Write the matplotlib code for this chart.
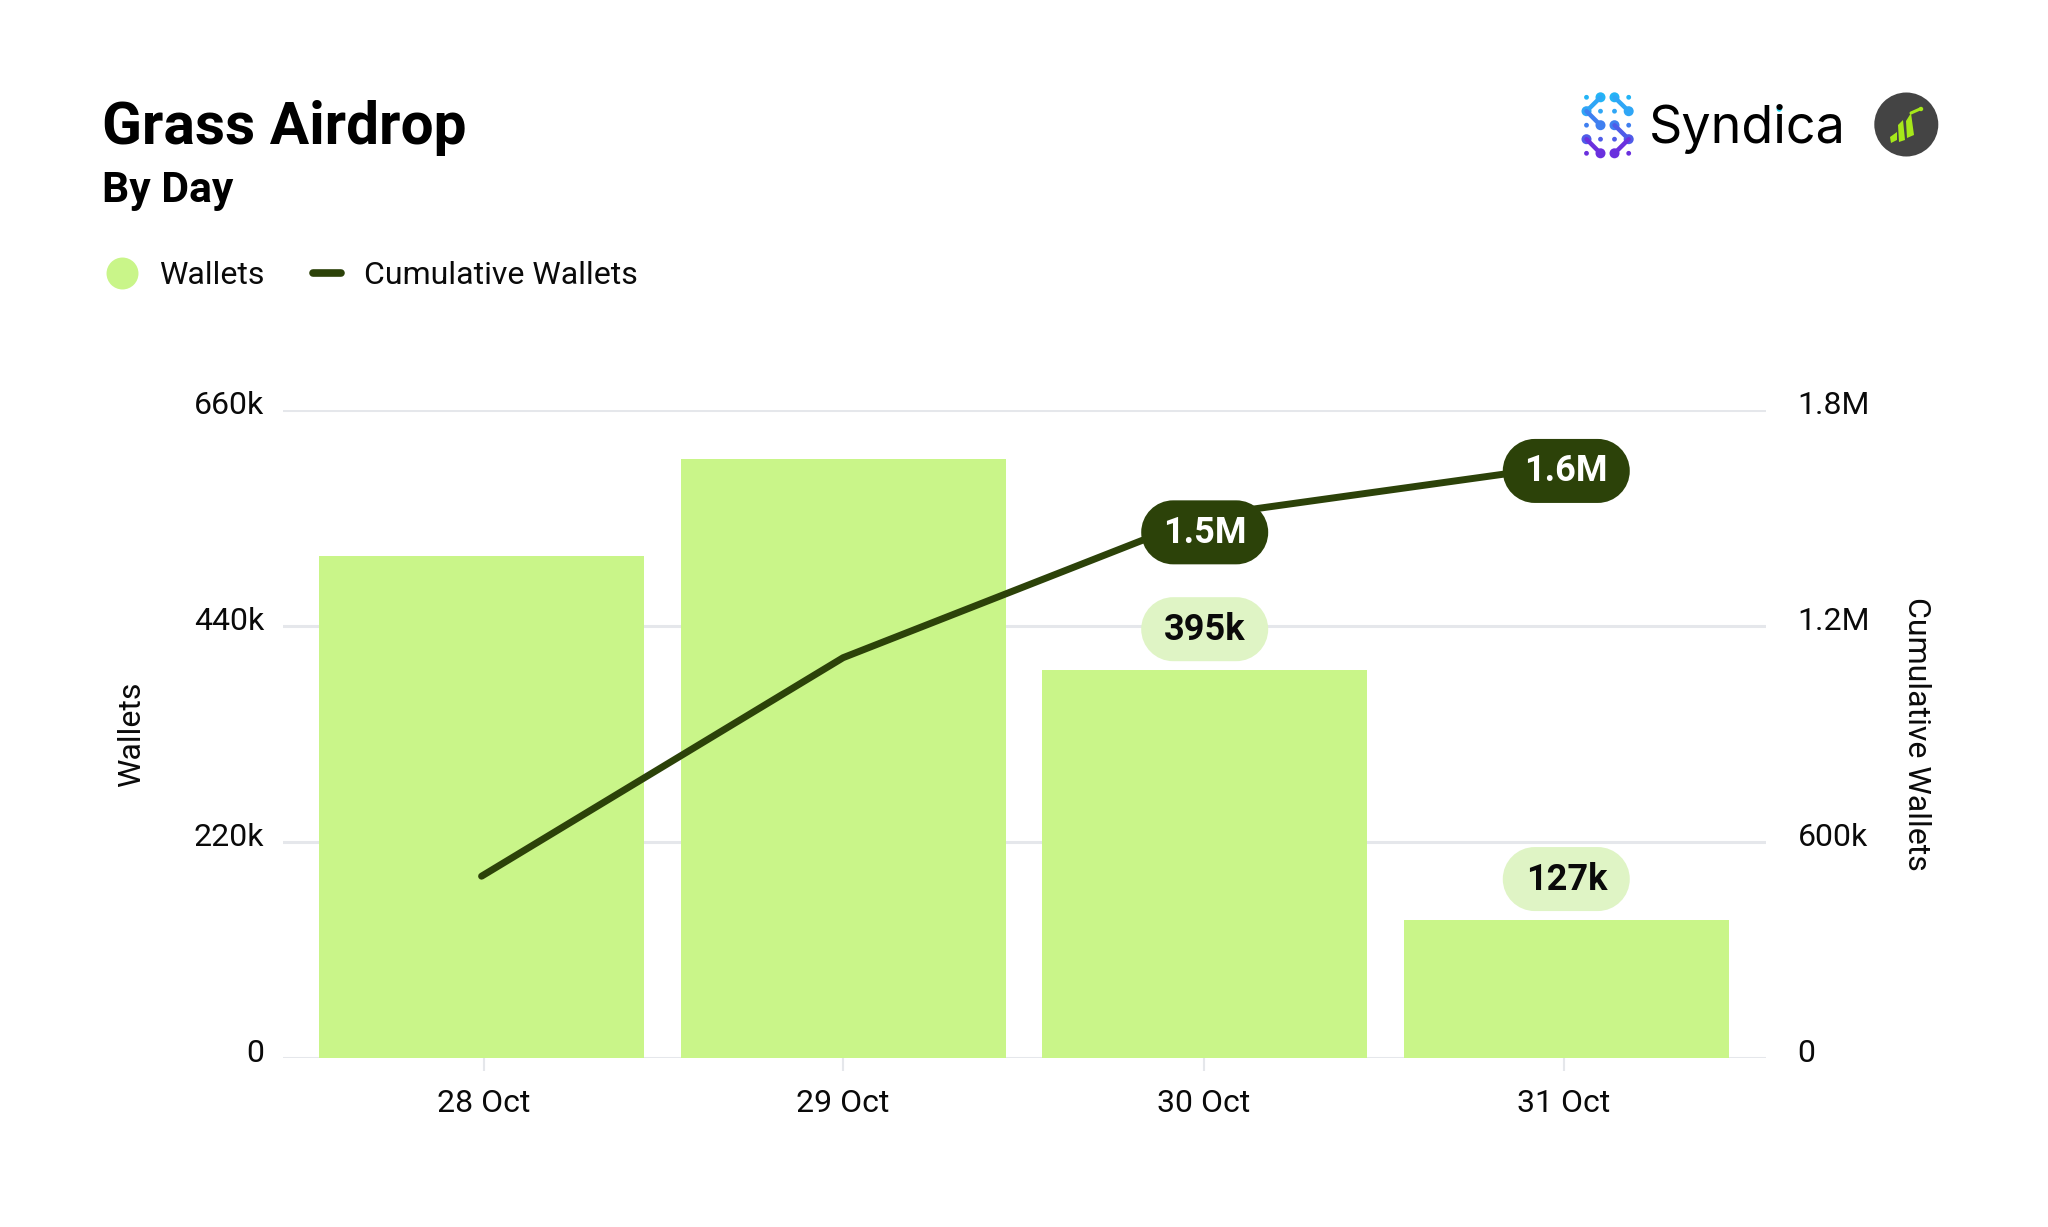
import matplotlib
matplotlib.use("Agg")
import matplotlib.pyplot as plt
from matplotlib.lines import Line2D
from matplotlib.patches import Circle, Polygon
from matplotlib.path import Path
from matplotlib.transforms import ScaledTranslation

# ---- data ----
days = ["28 Oct", "29 Oct", "30 Oct", "31 Oct"]
wallets = [511000, 610500, 395000, 140500]
cumulative = [505000, 1112000, 1506000, 1646000]
wallet_labels = {2: "395k", 3: "127k"}
cumulative_labels = {2: "1.5M", 3: "1.6M"}
left_ticks = [0, 220000, 440000, 660000]
left_tick_labels = ["0", "220k", "440k", "660k"]
right_ticks = [0, 600000, 1200000, 1800000]
right_tick_labels = ["0", "600k", "1.2M", "1.8M"]

# ---- style ----
BAR = "#C9F589"
PILL_LIGHT = "#DFF4C5"
DARK = "#2C4209"
GRID = "#E5E7EB"
INK = "#0A0A0A"
W, H = 2048, 1227
DPI = 100
FONT = "Roboto"
plt.rcParams["font.family"] = [FONT, "DejaVu Sans"]

fig = plt.figure(figsize=(W / DPI, H / DPI), dpi=DPI, facecolor="white")
L, R, T, B = 282.7, 1765.5, 410.0, 1058.0
ax = fig.add_axes([L / W, 1 - B / H, (R - L) / W, (B - T) / H])
ax2 = ax.twinx()
ax2.set_zorder(ax.get_zorder() + 1)
ax2.patch.set_visible(False)

positions = list(range(len(days)))
ax.bar(positions, wallets, width=0.899, color=BAR, zorder=3)
ax2.plot(positions, cumulative, color=DARK, lw=5.0, solid_capstyle="round",
         solid_joinstyle="round", zorder=3)

ax.set_xlim(-0.55, 3.551)
ax.set_ylim(0, 660000)
ax2.set_ylim(0, 1800000)
ax.set_xticks([0.007, 1.0, 1.997, 2.993], days)
ax.set_yticks(left_ticks, left_tick_labels)
ax2.set_yticks(right_ticks, right_tick_labels)
ax.grid(axis="y", color=GRID, lw=2.2, zorder=0)
ax.set_axisbelow(True)
for a in (ax, ax2):
    for s in a.spines.values():
        s.set_visible(False)
ax.tick_params(axis="x", length=9.5, width=1.5, color=GRID, labelsize=23,
               labelcolor=INK, pad=12.8)
ax.tick_params(axis="y", length=0, labelsize=23, labelcolor=INK, pad=13.4)
ax2.tick_params(axis="y", length=0, labelsize=23, labelcolor=INK, pad=23)
# the value labels sit a little above their gridlines
lift = ScaledTranslation(0, 8 / DPI, fig.dpi_scale_trans)
for lab in ax.get_yticklabels() + ax2.get_yticklabels():
    lab.set_transform(lab.get_transform() + lift)

ax.set_ylabel("Wallets", fontsize=23, color=INK)
ax.yaxis.set_label_coords((146 - L) / (R - L), 0.5)
ax2.set_ylabel("Cumulative Wallets", fontsize=23, color=INK, rotation=270, va="center")
ax2.yaxis.set_label_coords((1917 - L) / (R - L), 0.5)


def pill_box(x0, y0, width, height, mutation_size):
    """Fixed-size capsule around a label, in pixels."""
    half_w, half_h = 63.5, 32
    cx, cy = x0 + width / 2, y0 + height / 2 + 0.5
    r = half_h
    k = 0.5523 * r
    xl, xr = cx - half_w, cx + half_w
    yb, yt = cy - half_h, cy + half_h
    verts = [(xl + r, yb), (xr - r, yb),
             (xr - r + k, yb), (xr, cy - k), (xr, cy),
             (xr, cy + k), (xr - r + k, yt), (xr - r, yt),
             (xl + r, yt),
             (xl + r - k, yt), (xl, cy + k), (xl, cy),
             (xl, cy - k), (xl + r - k, yb), (xl + r, yb),
             (xl + r, yb)]
    codes = [Path.MOVETO, Path.LINETO] + [Path.CURVE4] * 6 + [Path.LINETO] + [Path.CURVE4] * 6 + [Path.CLOSEPOLY]
    return Path(verts, codes)


def pill(axis, i, y, text, fc, tc, dy_px):
    axis.annotate(text, xy=(i, y), xytext=(0, dy_px * 72 / DPI),
                  textcoords="offset points", ha="center", va="center",
                  fontsize=26, fontweight="bold", color=tc, zorder=10,
                  annotation_clip=False, bbox=dict(boxstyle=pill_box, fc=fc, ec="none"))


for i, t in wallet_labels.items():
    pill(ax2, i, wallets[i] * 1800000 / 660000, t, PILL_LIGHT, INK, 40.5)
pill(ax2, 2, cumulative[2], cumulative_labels[2], DARK, "white", -17)
pill(ax2, 3, cumulative[3], cumulative_labels[3], DARK, "white", -6)

# ---- title and legend ----
fig.text(102 / W, 1 - 144 / H, "Grass Airdrop", fontsize=42.2, fontweight="bold",
         color="black", va="baseline")
fig.text(102 / W, 1 - 201.7 / H, "By Day", fontsize=30.7, fontweight="bold",
         color="black", va="baseline")
handles = [
    Line2D([], [], ls="none", marker="o", ms=23, mfc=BAR, mec="none", label="Wallets"),
    Line2D([], [], color=DARK, lw=5.5, solid_capstyle="round", label="Cumulative Wallets"),
]
fig.legend(handles=handles, loc="center left", bbox_to_anchor=(108 / W, 1 - 276 / H),
           ncols=2, frameon=False, fontsize=23, borderpad=0, borderaxespad=0,
           handlelength=0.87, handletextpad=0.74, columnspacing=1.5, labelcolor=INK)

# ---- logo (pixel canvas) ----
logo = fig.add_axes([0, 0, 1, 1], zorder=20)
logo.set_xlim(0, W)
logo.set_ylim(H, 0)
logo.axis("off")
logo.text(1648.5, 143.3, "Syndica", fontsize=37.5, family="Inter", color="black", va="baseline")
logo.add_patch(Circle((1779.3, 109), 3.4, fc="#22D3EE", ec="white", lw=1))

cols = [1586.5, 1600.5, 1614.5, 1628.7]
rows = [97.3, 111.2, 125.2, 139.2, 153.3]
row_cols = ["#23B4F6", "#2FA6F6", "#3F7FF0", "#4F5CE8", "#6A30DE"]
small = [(0, 0), (3, 0), (1, 1), (2, 1), (0, 2), (3, 2), (1, 3), (2, 3), (0, 4), (3, 4)]
big = [(1, 0), (2, 0), (0, 1), (3, 1), (1, 2), (2, 2), (0, 3), (3, 3), (1, 4), (2, 4)]
links = [((1, 0), (0, 1)), ((2, 0), (3, 1)), ((0, 1), (1, 2)), ((2, 2), (3, 3)),
         ((0, 3), (1, 4)), ((3, 3), (2, 4))]
for c, r in small:
    logo.add_patch(Circle((cols[c], rows[r]), 2.4, fc=row_cols[r], ec="none"))
for (c1, r1), (c2, r2) in links:
    logo.plot([cols[c1], cols[c2]], [rows[r1], rows[r2]], color=row_cols[r2], lw=3.2,
              solid_capstyle="round")
for c, r in big:
    logo.add_patch(Circle((cols[c], rows[r]), 5.0, fc=row_cols[r], ec="none"))

logo.add_patch(Circle((1906.3, 124.5), 32, fc="#444444", ec="none"))
GREEN = "#A6E81A"
for pts in [
    [(1890, 137), (1897, 132), (1897, 140), (1891, 143)],
    [(1898, 125), (1903, 120), (1905, 140), (1899, 142)],
    [(1906, 121), (1911, 113), (1914, 135), (1907, 138)],
]:
    logo.add_patch(Polygon(pts, closed=True, fc=GREEN, ec="none"))
logo.plot([1911, 1920], [113, 109], color=GREEN, lw=2.2, solid_capstyle="round")
logo.add_patch(Circle((1921, 109), 2.2, fc=GREEN, ec="none"))

fig.savefig("out.png", dpi=DPI, facecolor="white")
